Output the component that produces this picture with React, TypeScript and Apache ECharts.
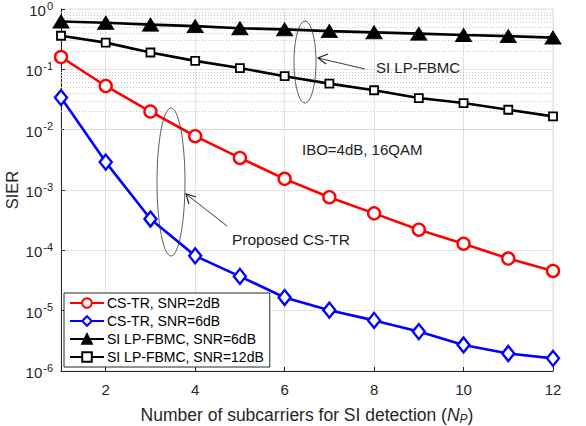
import React, { useEffect, useRef } from "react";
import * as echarts from "echarts";

const xValues = [1, 2, 3, 4, 5, 6, 7, 8, 9, 10, 11, 12];
const csTrSnr2 = [0.16, 0.053, 0.02, 0.0078, 0.0034, 0.00153, 0.00076, 0.00041, 0.00022, 0.000129, 0.000073, 0.0000455];
const csTrSnr6 = [0.034, 0.0029, 0.00033, 0.000081, 0.000037, 0.0000165, 0.0000102, 0.0000069, 0.0000045, 0.0000027, 0.00000195, 0.00000162];
const lpSnr6 = [0.62, 0.59, 0.55, 0.52, 0.48, 0.46, 0.43, 0.41, 0.39, 0.37, 0.355, 0.336];
const lpSnr12 = [0.36, 0.277, 0.19, 0.138, 0.105, 0.077, 0.058, 0.045, 0.0334, 0.0276, 0.0214, 0.0166];
const xTickValues = [2, 4, 6, 8, 10, 12];
const minorY: number[] = [];
for (let e = -6; e < 0; e++) {
  for (let k = 2; k <= 9; k++) minorY.push(k * Math.pow(10, e));
}
const seriesNames = [
  "CS-TR, SNR=2dB",
  "CS-TR, SNR=6dB",
  "SI LP-FBMC, SNR=6dB",
  "SI LP-FBMC, SNR=12dB",
];

const FONT = "Liberation Sans, Arial, sans-serif";
const TXT = "#262626";

export default function App() {
  const ref = useRef<HTMLDivElement>(null);
  useEffect(() => {
    if (!ref.current) return;
    const chart = echarts.init(ref.current, undefined, { renderer: "svg" });
    const pair = (arr: number[]) => xValues.map((x, i) => [x, arr[i]]);
    chart.setOption({
      animation: false,
      backgroundColor: "#fff",
      textStyle: { fontFamily: FONT },
      grid: {
        left: 61,
        right: 33,
        top: 9,
        bottom: 55,
        containLabel: false,
        outerBoundsMode: "none",
        show: true,
        borderColor: "#e3e3e3",
        borderWidth: 1,
      },
      legend: {
        data: seriesNames,
        orient: "vertical",
        left: 64,
        top: 293,
        itemWidth: 34,
        itemHeight: 12,
        itemGap: 4,
        padding: [3, 6, 3, 5],
        backgroundColor: "#fff",
        borderColor: "#262626",
        borderWidth: 1,
        borderRadius: 0,
        textStyle: { fontSize: 14, color: "#000", fontFamily: FONT, padding: [0, 0, 0, -2] },
      },
      xAxis: {
        type: "value",
        min: 1,
        max: 12,
        interval: 1,
        name: "Number of subcarriers for SI detection ({i|N}{s|P})",
        nameLocation: "middle",
        nameGap: 33,
        nameTextStyle: {
          fontSize: 17.5,
          color: TXT,
          fontFamily: FONT,
          rich: {
            i: { fontSize: 17.5, fontStyle: "italic", color: TXT, fontFamily: FONT },
            s: { fontSize: 12, fontStyle: "italic", color: TXT, fontFamily: FONT, verticalAlign: "bottom", padding: [9, 0, 0, 0] },
          },
        },
        axisLine: { show: true, lineStyle: { color: TXT, width: 1 } },
        axisTick: { show: true, inside: true, length: 4, customValues: xTickValues, lineStyle: { color: TXT } },
        axisLabel: { customValues: xTickValues, fontSize: 15, color: TXT, margin: 11, fontFamily: FONT },
        splitLine: { show: true, lineStyle: { color: "#e3e3e3", width: 1 } },
      },
      yAxis: {
        type: "log",
        logBase: 10,
        min: 1e-6,
        max: 1,
        interval: 1,
        name: "SIER",
        nameLocation: "middle",
        nameGap: 41,
        nameMoveOverlap: false,
        nameTextStyle: { fontSize: 16.5, color: TXT, fontFamily: FONT },
        axisLine: { show: true, lineStyle: { color: TXT, width: 1 } },
        axisTick: { show: true, inside: true, length: 4, lineStyle: { color: TXT } },
        axisLabel: {
          margin: 8,
          formatter: (v: number) => `{b|10}{s|${Math.round(Math.log10(v))}}`,
          rich: {
            b: { fontSize: 15, color: TXT, fontFamily: FONT, lineHeight: 18, verticalAlign: "bottom", padding: [6, 0, 0, 0] },
            s: { fontSize: 11, color: TXT, fontFamily: FONT, lineHeight: 14, verticalAlign: "top", padding: [0, 0, 8, 1] },
          },
        },
        splitLine: { show: true, lineStyle: { color: "#e3e3e3", width: 1 } },
      },
      series: [
        {
          name: "minor",
          type: "line",
          data: [],
          silent: true,
          markLine: {
            silent: true,
            symbol: "none",
            label: { show: false },
            lineStyle: { type: [1, 2], color: "#c4c4c4", width: 1 },
            data: minorY.map((v) => ({ yAxis: v })),
          },
          z: 1,
        },
        {
          name: seriesNames[0],
          type: "line",
          data: pair(csTrSnr2),
          symbol: "circle",
          symbolSize: 12,
          showAllSymbol: true,
          lineStyle: { color: "#ff0000", width: 2.6 },
          itemStyle: { color: "#fff", borderColor: "#ff0000", borderWidth: 2.4 },
          z: 5,
        },
        {
          name: seriesNames[1],
          type: "line",
          data: pair(csTrSnr6),
          symbol: "diamond",
          symbolSize: [12, 15],
          lineStyle: { color: "#0000ff", width: 2.6 },
          itemStyle: { color: "#fff", borderColor: "#0000ff", borderWidth: 2.4 },
          z: 5,
        },
        {
          name: seriesNames[2],
          type: "line",
          data: pair(lpSnr6),
          symbol: "triangle",
          symbolSize: [16, 13],
          lineStyle: { color: "#000", width: 2.6 },
          itemStyle: { color: "#000", borderColor: "#000", borderWidth: 1 },
          z: 5,
        },
        {
          name: seriesNames[3],
          type: "line",
          data: pair(lpSnr12),
          symbol: "rect",
          symbolSize: 8,
          lineStyle: { color: "#000", width: 2.6 },
          itemStyle: { color: "#fff", borderColor: "#000", borderWidth: 1.8 },
          z: 5,
        },
      ],
      graphic: [
        { type: "ellipse", shape: { cx: 305, cy: 62, rx: 11, ry: 41 }, style: { fill: "none", stroke: "#333", lineWidth: 0.8 }, z: 10 },
        { type: "line", shape: { x1: 365, y1: 69, x2: 318, y2: 58 }, style: { stroke: "#222", lineWidth: 0.9 }, z: 10 },
        { type: "polyline", shape: { points: [[328, 54], [318, 58], [326, 64]] }, style: { stroke: "#222", fill: "none", lineWidth: 1.2 }, z: 10 },
        { type: "text", x: 376, y: 67, style: { text: "SI LP-FBMC", fontSize: 15, fill: "#222", fontFamily: FONT, verticalAlign: "middle" }, z: 10 },
        { type: "text", x: 302, y: 149, style: { text: "IBO=4dB, 16QAM", fontSize: 15, fill: "#222", fontFamily: FONT, verticalAlign: "middle" }, z: 10 },
        { type: "ellipse", shape: { cx: 171, cy: 182, rx: 14, ry: 74 }, style: { fill: "none", stroke: "#333", lineWidth: 0.8 }, z: 10 },
        { type: "line", shape: { x1: 227, y1: 226, x2: 186, y2: 194 }, style: { stroke: "#222", lineWidth: 0.9 }, z: 10 },
        { type: "polyline", shape: { points: [[189, 204], [186, 194], [196, 197]] }, style: { stroke: "#222", fill: "none", lineWidth: 1.2 }, z: 10 },
        { type: "text", x: 232, y: 239, style: { text: "Proposed CS-TR", fontSize: 15.5, fill: "#222", fontFamily: FONT, verticalAlign: "middle" }, z: 10 },
      ],
    });
    return () => chart.dispose();
  }, []);
  return <div ref={ref} style={{ width: 586, height: 426, position: "absolute", left: 0, top: 0 }} />;
}
